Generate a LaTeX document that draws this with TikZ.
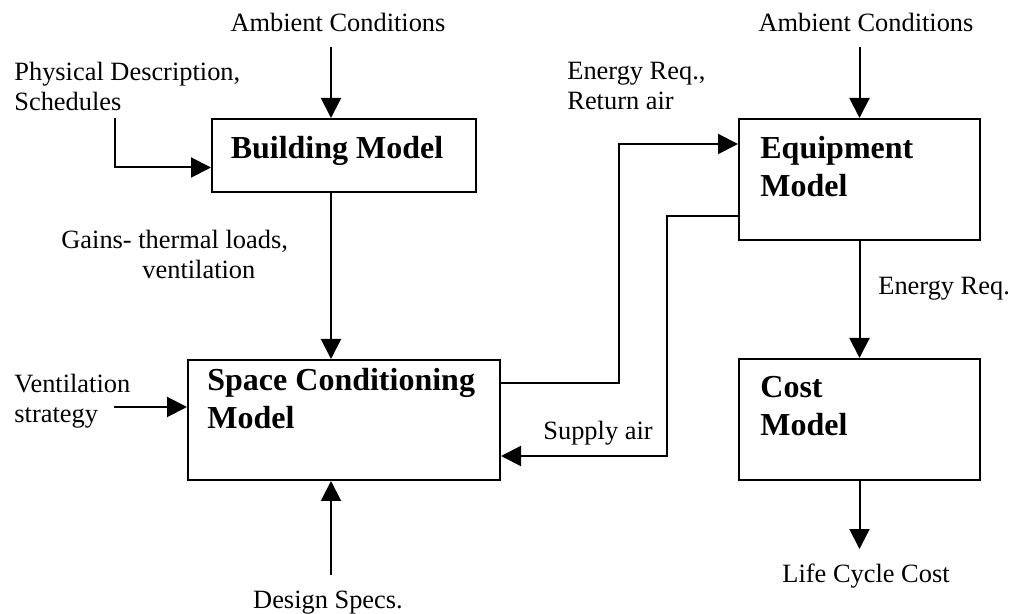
\documentclass[tikz,border=0pt]{standalone}
\usepackage{fontspec}
\setmainfont{Liberation Serif}
\usetikzlibrary{arrows.meta,positioning}

\tikzset{
    block/.style={draw,line width=1pt,inner sep=0pt,anchor=north west},
    blocktext/.style={font=\fontsize{16}{19}\selectfont\bfseries,align=left,inner sep=0pt},
    note/.style={font=\fontsize{13.2}{15}\selectfont,inner sep=0pt},
    flow/.style={line width=1pt,-{Triangle[length=10pt,width=10pt]}}
}

\begin{document}
\begin{tikzpicture}[x=0.5pt,y=-0.5pt]
    \useasboundingbox (0,0) rectangle (1013,614);
    %model boxes
    \node[block,minimum width=132pt,minimum height=36.5pt] (building) at (211,118) {};
    \node[block,minimum width=156pt,minimum height=60pt] (space) at (187,359) {};
    \node[block,minimum width=120.5pt,minimum height=60.5pt] (equip) at (738,118) {};
    \node[block,minimum width=120.5pt,minimum height=60.5pt] (cost) at (738,358) {};
    \node[blocktext,anchor=base] (buildinglabel) at (337,159) {Building Model};
    \node[blocktext,anchor=north west] (spacelabel) at (207,368) {Space Conditioning\\Model};
    \node[blocktext,anchor=north west] (equiplabel) at (760,136) {Equipment\\Model};
    \node[blocktext,anchor=north west] (costlabel) at (760,376) {Cost\\Model};
    %inputs and outputs
    \node[note,anchor=base] (ambA) at (338,32) {Ambient Conditions};
    \node[note,anchor=base] (ambB) at (866,32) {Ambient Conditions};
    \node[note,anchor=north west,align=left] (physical) at (14,62) {Physical Description,\\Schedules};
    \node[note,anchor=north west,align=left] (gains) at (61,230) {Gains- thermal loads,\\\hspace*{40.5pt}ventilation};
    \node[note,anchor=north west,align=left] (vent) at (14,374) {Ventilation\\strategy};
    \node[note,anchor=north west,align=left] (energyret) at (567,62) {Energy Req.,\\Return air};
    \node[note,anchor=base west] (supply) at (543,440) {Supply air};
    \node[note,anchor=base west] (energy) at (878,295) {Energy Req.};
    \node[note,anchor=base] (lcc) at (866,583) {Life Cycle Cost};
    \node[note,anchor=base] (design) at (328,609) {Design Specs.};
    \coordinate (colA) at (331,0);
    \coordinate (physstart) at (115,118);
    \coordinate (ventstart) at (114,407);
    \coordinate (retx) at (619,260);
    \coordinate (supx) at (667,300);
    %connectors
    \draw[flow] ([yshift=-7pt]ambA.south -| colA) -- (building.north -| colA);
    \draw[flow] ([yshift=-7pt]ambB.south -| equip.north) -- (equip.north);
    \draw[flow] (physstart) |- ([yshift=-6pt]building.west);
    \draw[flow] (building.south -| colA) -- (space.north -| colA);
    \draw[flow] ([yshift=8pt]design.north -| colA) -- (space.south -| colA);
    \draw[flow] (ventstart) -- (ventstart -| space.west);
    \draw[flow] ([yshift=18.5pt]space.east) -- ([yshift=18.5pt]space.east -| retx) |- ([yshift=17.75pt]equip.west);
    \draw[flow] ([yshift=-18.25pt]equip.west) -- ([yshift=-18.25pt]equip.west -| supx) |- ([yshift=-18pt]space.east);
    \draw[flow] (equip.south) -- (cost.north);
    \draw[flow] (cost.south) -- ([yshift=7.5pt]lcc.north -| cost.south);
\end{tikzpicture}
\end{document}
